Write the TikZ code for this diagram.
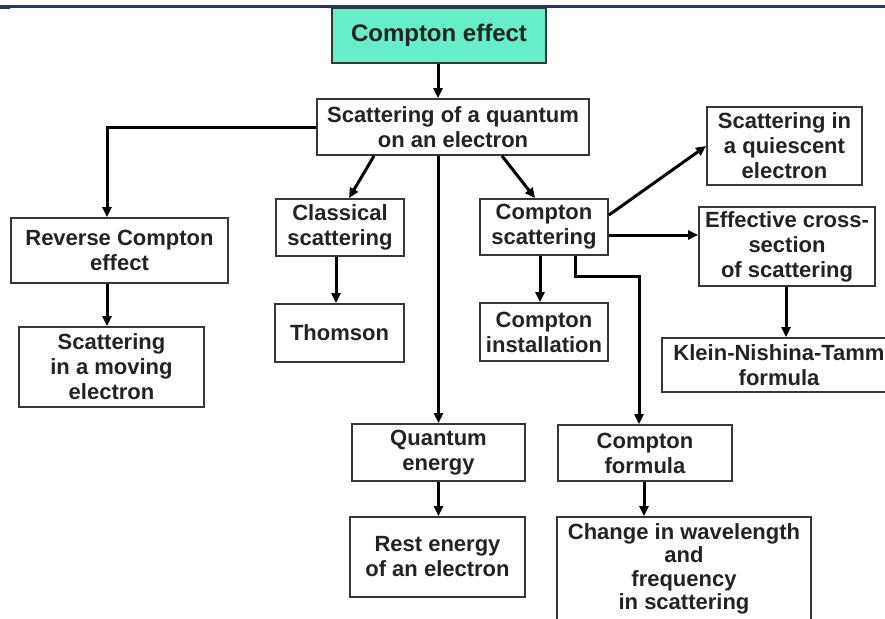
\documentclass[tikz,border=0pt]{standalone}
\usepackage{fontspec}
\setmainfont{Liberation Sans}
\usetikzlibrary{arrows.meta}
\definecolor{mint}{RGB}{102,238,200}
\definecolor{navy}{RGB}{31,56,100}
\definecolor{boxc}{RGB}{55,55,55}
\definecolor{txtc}{RGB}{35,35,35}
\tikzset{
  bx/.style={draw=boxc, line width=1.9pt, fill=white, align=center, inner sep=0pt,
    font=\bfseries\fontsize{22}{25}\selectfont, text=txtc},
  arr/.style={draw=black, line width=3pt, -{Triangle[length=10pt,width=9pt]}}
}
\begin{document}
\begin{tikzpicture}[x=1pt,y=-1pt]
\useasboundingbox (0,0) rectangle (885,618);
% top decorative rule
\draw[navy, line width=2.2pt] (0,6.5) -- (885,6.5);
\fill[navy] (0,6) rectangle (10,9.5);

\node[bx, fill=mint, minimum width=214pt, minimum height=55pt, font=\bfseries\fontsize{24}{27}\selectfont] (ce) at (439,35.5) {Compton effect};
\node[bx, minimum width=272pt, minimum height=56pt] (sq) at (453,127) {Scattering of a quantum\\on an electron};
\node[bx, minimum width=217pt, minimum height=65pt] (rc) at (119.5,250.5) {Reverse Compton\\effect};
\node[bx, minimum width=185pt, minimum height=80pt] (sm) at (111.5,367) {Scattering\\in a moving\\electron};
\node[bx, minimum width=128pt, minimum height=57pt] (cl) at (340,227.5) {Classical\\scattering};
\node[bx, minimum width=129pt, minimum height=58pt] (th) at (339.5,333) {Thomson};
\node[bx, minimum width=173pt, minimum height=57pt] (qe) at (438.5,452.5) {Quantum\\energy};
\node[bx, minimum width=175pt, minimum height=80pt] (re) at (437.5,557) {Rest energy\\of an electron};
\node[bx, minimum width=128pt, minimum height=56pt] (cs) at (544,227) {Compton\\scattering};
\node[bx, minimum width=128pt, minimum height=58pt] (ci) at (544,332) {Compton\\installation};
\node[bx, minimum width=174pt, minimum height=56pt] (cf) at (645,453) {Compton\\formula};
\node[bx, minimum width=254pt, minimum height=104pt, font=\bfseries\fontsize{22}{23.5}\selectfont] (cw) at (684,569) {Change in wavelength\\and\\frequency\\in scattering};
\node[bx, minimum width=155pt, minimum height=78pt] (sqe) at (784.5,146) {Scattering in\\a quiescent\\electron};
\node[bx, minimum width=176pt, minimum height=79pt] (ecs) at (787,246.5) {Effective cross-\\section\\of scattering};
\node[bx, minimum width=234pt, minimum height=54pt] (kn) at (779,365) {Klein-Nishina-Tamm\\formula};

% connectors
\draw[arr] ([xshift=-1pt]ce.south) -- ([xshift=-1pt]ce.south |- sq.north);
\draw[arr] (sq.west) -| ([xshift=-12.5pt]rc.north);
\draw[arr] ([xshift=-12.5pt]rc.south) -- ([xshift=-12.5pt]rc.south |- sm.north);
\draw[arr] ([xshift=-79pt]sq.south) -- ([xshift=9pt]cl.north);
\draw[arr] ([xshift=-4pt]cl.south) -- ([xshift=-4pt]cl.south |- th.north);
\draw[arr] (qe.north |- sq.south) -- (qe.north);
\draw[arr] (qe.south) -- (qe.south |- re.north);
\draw[arr] ([xshift=49pt]sq.south) -- ([xshift=-9pt]cs.north);
\draw[arr] ([xshift=-4pt]cs.south) -- ([xshift=-4pt]cs.south |- ci.north);
\draw[arr] ([xshift=31pt]cs.south) -- ++(0,21) -| ([xshift=-6pt]cf.north);
\draw[arr] ([xshift=-1pt]cf.south) -- ([xshift=-1pt]cf.south |- cw.north);
\draw[arr] ([yshift=12pt]cs.east) -- (sqe.west);
\draw[arr] ([yshift=-8pt]cs.east) -- ([yshift=-8pt]cs.east -| ecs.west);
\draw[arr] ([xshift=-1pt]ecs.south) -- ([xshift=-1pt]ecs.south |- kn.north);
\end{tikzpicture}
\end{document}
